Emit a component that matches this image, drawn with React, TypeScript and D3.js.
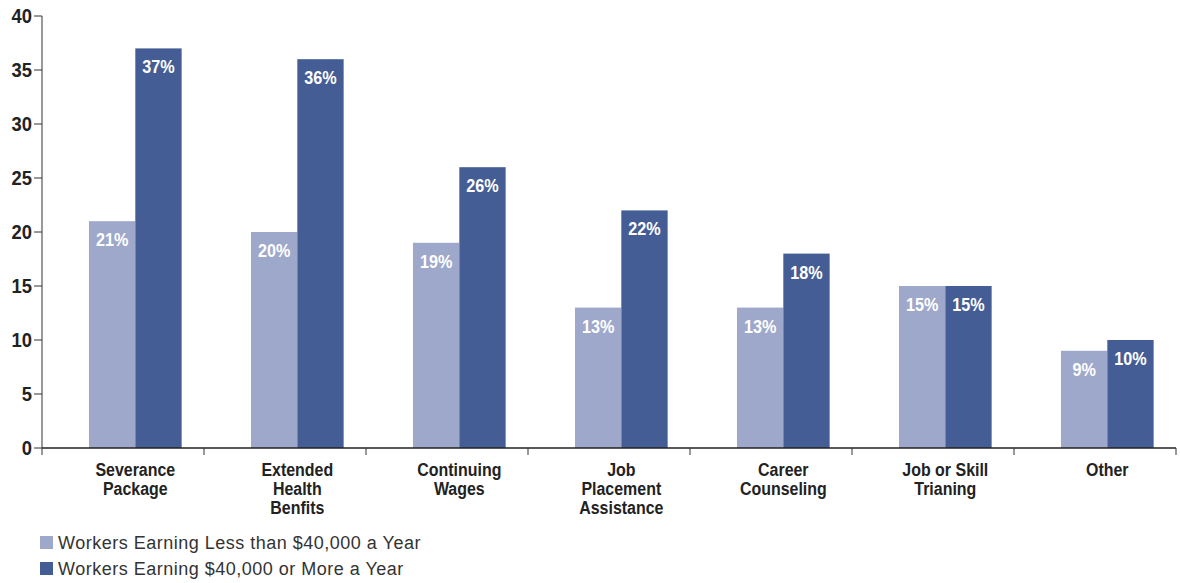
import React from "react";
import * as d3 from "d3";

const categories = [
  ["Severance", "Package"],
  ["Extended", "Health", "Benfits"],
  ["Continuing", "Wages"],
  ["Job", "Placement", "Assistance"],
  ["Career", "Counseling"],
  ["Job or Skill", "Trianing"],
  ["Other"],
];
const lowEarners = [21, 20, 19, 13, 13, 15, 9];
const highEarners = [37, 36, 26, 22, 18, 15, 10];
const yTicks = [0, 5, 10, 15, 20, 25, 30, 35, 40];
const seriesNames = [
  "Workers Earning Less than $40,000 a Year",
  "Workers Earning $40,000 or More a Year",
];
const colors = ["#9ea8ca", "#445d94"];

const W = 1180;
const H = 583;
const left = 42;
const right = 1176;
const top = 16;
const bottom = 448;
const boldFont = "'Liberation Sans', Arial, sans-serif";
const regFont = "'Liberation Sans', Arial, sans-serif";

export default function App() {
  const idx = categories.map((_, i) => i);
  const x = d3.scaleBand<number>().domain(idx).range([left, right]).padding(0);
  const y = d3.scaleLinear().domain([0, 40]).range([bottom, top]);
  const bw = x.bandwidth();
  const barW = bw * 0.286;
  const offset = bw * 0.29;
  const series = [lowEarners, highEarners];

  return (
    <svg width={W} height={H} style={{ position: "absolute", left: 0, top: 0, background: "#fff" }}>
      {/* bars */}
      {series.map((vals, s) =>
        vals.map((v, i) => {
          const bx = (x(i) as number) + offset + s * barW;
          return (
            <g key={`b${s}-${i}`}>
              <rect x={bx} y={y(v)} width={barW} height={bottom - y(v)} fill={colors[s]} />
              <text
                transform={`translate(${bx + barW / 2}, ${y(v) + 25}) scale(0.9, 1)`}
                textAnchor="middle"
                fill="#fff"
                fontFamily={boldFont}
                fontWeight="bold"
                fontSize={18}
              >
                {v}%
              </text>
            </g>
          );
        })
      )}
      {/* y axis */}
      <line x1={left} x2={left} y1={top} y2={bottom} stroke="#777" strokeWidth={1.5} />
      {yTicks.map((t) => (
        <g key={`y${t}`}>
          <line x1={left - 8} x2={left} y1={y(t)} y2={y(t)} stroke="#333" strokeWidth={1} />
          <text
            transform={`translate(${left - 10}, ${y(t) + 6.5}) scale(0.92, 1)`}
            textAnchor="end"
            fontFamily={boldFont}
            fontWeight="bold"
            fontSize={20}
            fill="#222"
          >
            {t}
          </text>
        </g>
      ))}
      {/* x axis */}
      <line x1={left} x2={right} y1={bottom} y2={bottom} stroke="#222" strokeWidth={1.5} />
      {[...idx, idx.length].map((i) => {
        const tx = i < idx.length ? (x(i) as number) : right;
        return <line key={`xt${i}`} x1={tx} x2={tx} y1={bottom} y2={bottom + 7} stroke="#333" strokeWidth={1} />;
      })}
      {categories.map((lines, i) => {
        const cx = (x(i) as number) + offset + barW;
        return (
          <text
            key={`c${i}`}
            transform={`translate(${cx}, 0) scale(0.84, 1)`}
            textAnchor="middle"
            fontFamily={boldFont}
            fontWeight="bold"
            fontSize={19}
            fill="#222"
          >
            {lines.map((l, k) => (
              <tspan key={k} x={0} y={476 + k * 19}>
                {l}
              </tspan>
            ))}
          </text>
        );
      })}
      {/* legend */}
      {seriesNames.map((n, s) => (
        <g key={`l${s}`} transform={`translate(40, ${536 + s * 26})`}>
          <rect x={0} y={0} width={13} height={13} fill={colors[s]} />
          <text x={18} y={13} fontFamily={regFont} fontSize={18} letterSpacing={0.5} fill="#333">
            {n}
          </text>
        </g>
      ))}
    </svg>
  );
}
